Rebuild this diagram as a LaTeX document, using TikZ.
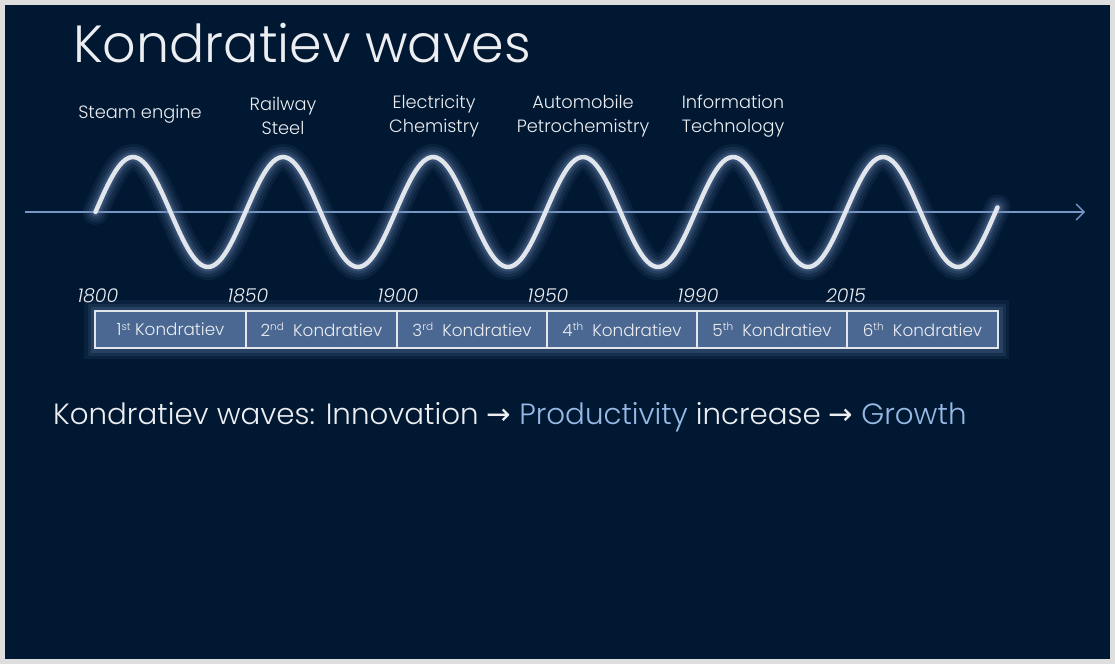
\documentclass[tikz,border=0pt]{standalone}
\usepackage{fontspec}
\setmainfont{Poppins}[UprightFont={* Light},ItalicFont={* Light Italic},BoldFont={* Regular}]
\newfontfamily\symfont{DejaVu Sans}
\usetikzlibrary{arrows.meta}
\definecolor{bgdark}{RGB}{1,24,50}
\definecolor{frame}{RGB}{222,222,222}
\definecolor{axisblue}{RGB}{120,150,195}
\definecolor{glowblue}{RGB}{110,140,185}
\definecolor{wavewhite}{RGB}{225,229,236}
\definecolor{boxfill}{RGB}{74,104,146}
\definecolor{lightblue}{RGB}{150,185,230}
\definecolor{txtwhite}{RGB}{236,238,242}
\newcommand{\ksup}[1]{\raisebox{5.5pt}{\fontsize{10.5}{11}\selectfont #1}}
\tikzset{
  lbl/.style={text=txtwhite, font=\fontsize{17.8}{24}\selectfont, align=center, inner sep=0pt},
  yr/.style={text=txtwhite, font=\fontsize{19}{22}\selectfont\itshape, inner sep=0pt, anchor=base},
  kbox/.style={draw=wavewhite, line width=2.8pt, fill=boxfill, minimum height=37pt, inner sep=0pt, text=txtwhite, font=\fontsize{16.8}{19}\selectfont},
}
\begin{document}
\begin{tikzpicture}[x=1pt,y=-1pt]
\useasboundingbox (0,0) rectangle (1115,664);
\fill[frame] (0,0) rectangle (1115,664);
\fill[bgdark] (5,5) rectangle (1110,659);
% title
\node[anchor=base west, text=txtwhite, inner sep=0pt, font=\fontsize{52.3}{58}\selectfont] (title) at (73,62) {Kondratiev waves};
% axis
\coordinate (axL) at (25,212);
\coordinate (axR) at (1085,212);
\draw[axisblue, line width=1.3pt, -{Straight Barb[length=8pt,width=16pt,line width=1.3pt]}] (axL) -- (axR);
% wave glow
\foreach \w/\o in {26pt/0.09, 20pt/0.12, 14pt/0.16, 9pt/0.25}{
  \draw[glowblue, line width=\w, opacity=\o, line cap=round] plot[domain=95.5:997.5, samples=300, smooth] (\x, {212 - 55*sin((\x-95.5)*2.4)});
}
\draw[wavewhite, line width=4.5pt, line cap=round] plot[domain=95.5:997.5, samples=300, smooth] (\x, {212 - 55*sin((\x-95.5)*2.4)});
% topic labels
\node[lbl] (t1) at (140,114) {Steam engine};
\node[lbl] (t2) at (283,116) {Railway\\Steel};
\node[lbl] (t3) at (434,116) {Electricity\\Chemistry};
\node[lbl] (t4) at (583,116) {Automobile\\Petrochemistry};
\node[lbl] (t5) at (733,116) {Information\\Technology};
% years
\node[yr] (y1) at (98,302) {1800};
\node[yr] (y2) at (248,302) {1850};
\node[yr] (y3) at (398,302) {1900};
\node[yr] (y4) at (548,302) {1950};
\node[yr] (y5) at (698,302) {1990};
\node[yr] (y6) at (846,302) {2015};
% boxes glow
\foreach \w/\o in {22pt/0.09, 15pt/0.13, 9pt/0.2}{
  \draw[glowblue, line width=\w, opacity=\o] (95,311) rectangle (998,348);
  \foreach \xx in {246,397,547,697,847}{\draw[glowblue, line width=\w, opacity=\o] (\xx,311) -- (\xx,348);}
}
% boxes
\node[kbox, minimum width=151pt] (k1) at (170.5,329.5) {1\ksup{st} Kondratiev};
\node[kbox, minimum width=151pt] (k2) at (321.5,329.5) {2\ksup{nd}\ \ Kondratiev};
\node[kbox, minimum width=150pt] (k3) at (472,329.5) {3\ksup{rd}\ \ Kondratiev};
\node[kbox, minimum width=150pt] (k4) at (622,329.5) {4\ksup{th}\ \ Kondratiev};
\node[kbox, minimum width=150pt] (k5) at (772,329.5) {5\ksup{th}\ \ Kondratiev};
\node[kbox, minimum width=151pt] (k6) at (922.5,329.5) {6\ksup{th}\ \ Kondratiev};
% bottom line
\node[anchor=base west, inner sep=0pt, text=txtwhite, font=\fontsize{29.3}{33}\selectfont] (summary) at (53,424)
 {Kondratiev waves: Innovation {\symfont →} \textcolor{lightblue}{Productivity} increase {\symfont →} \textcolor{lightblue}{Growth}};
\end{tikzpicture}
\end{document}
